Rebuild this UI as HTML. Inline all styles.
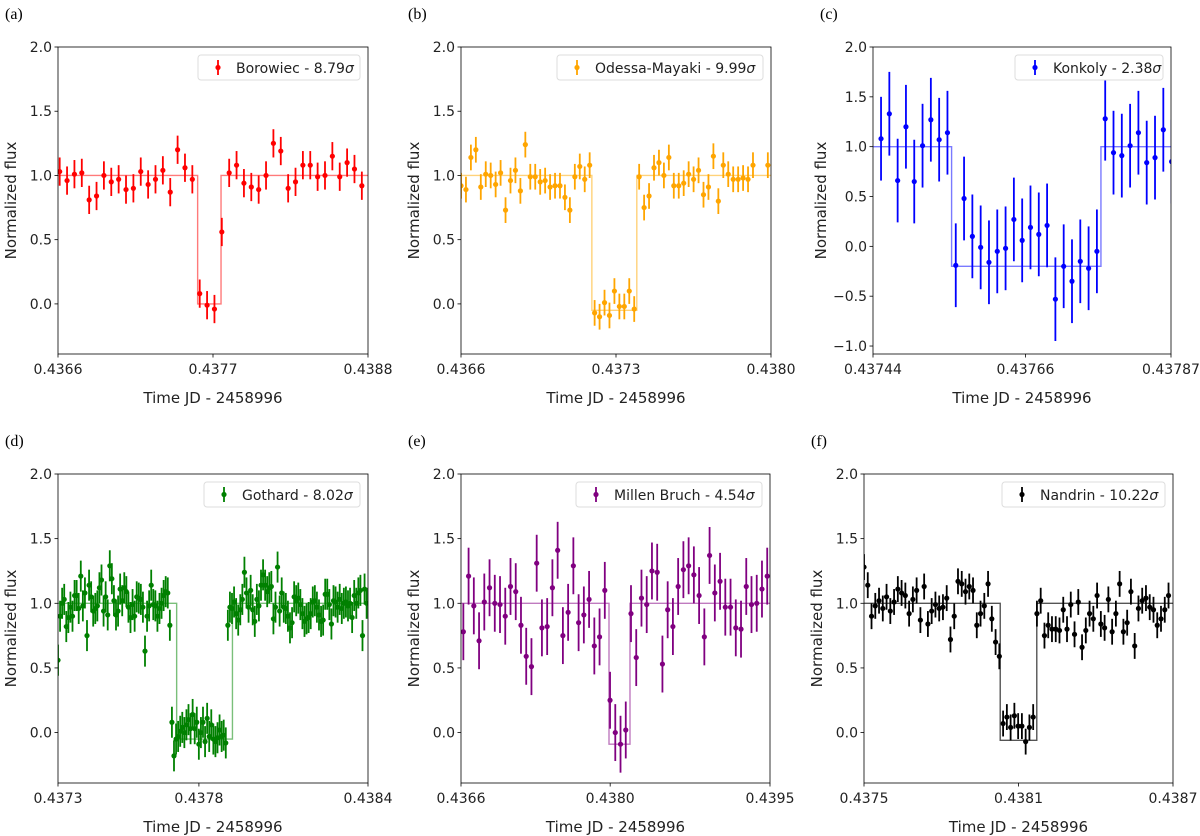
<!DOCTYPE html>
<html><head><meta charset="utf-8">
<style>
html,body{margin:0;padding:0;background:#fff;}
svg{display:block;font-family:"DejaVu Sans","Liberation Sans",sans-serif;}
</style></head>
<body>
<svg id="fig" width="1200" height="836" viewBox="0 0 1200 836" xmlns="http://www.w3.org/2000/svg"></svg>
<script>
// ---- data (regular cadence: start time, cadence, flux per exposure) ----
const aStart = 0.436612, aCadence = 5.23e-5;
const aFlux = [1.03,0.96,1.01,1.02,0.81,0.84,1.00,0.95,0.97,0.89,0.90,1.03,0.93,0.97,1.04,0.87,1.20,1.06,0.97,0.08,-0.01,-0.04,0.56,1.02,1.08,0.94,0.91,0.89,1.00,1.25,1.19,0.90,0.95,1.08,1.08,0.99,1.00,1.15,0.99,1.10,1.05,0.92];
const aErr = 0.11;
const aModelT = [0.4366,0.437591,0.437591,0.437757,0.437757,0.4388];
const aModelF = [1,1,0,0,1,1];

const bStart = 0.436600, bCadence = 2.235e-5;
const bFlux = [0.92,0.89,1.14,1.20,0.91,1.01,1.00,0.93,1.02,0.73,0.96,1.04,0.88,1.24,0.99,0.99,0.95,0.96,0.91,0.92,0.92,0.83,0.73,0.99,1.07,0.97,1.08,-0.07,-0.10,0.01,-0.09,0.10,-0.02,-0.02,0.10,-0.04,0.99,0.75,0.84,1.06,1.10,1.00,1.14,0.92,0.92,0.94,1.01,0.97,1.04,0.85,0.91,1.15,0.80,1.08,1.01,0.97,0.97,0.98,0.97,1.08,null,null,1.08];
const bErr = 0.1;
const bModelT = [0.4366,0.437191,0.437191,0.437394,0.437394,0.4380];
const bModelF = [1,1,-0.05,-0.05,1,1];

const cStart = 0.4374516, cCadence = 1.198e-5;
const cFlux = [1.08,1.33,0.66,1.20,0.65,1.01,1.27,1.07,1.14,-0.19,0.48,0.10,-0.01,-0.16,-0.05,-0.02,0.27,0.06,0.19,0.12,0.21,-0.53,-0.20,-0.35,-0.15,-0.22,-0.05,1.28,0.94,0.91,1.01,1.14,0.84,0.89,1.17,0.85];
const cErr = 0.42;
const cModelT = [0.43744,0.4375534,0.4375534,0.4377689,0.4377689,0.43787];
const cModelF = [1,1,-0.2,-0.2,1,1];

const dStart = 0.4373, dCadence = 7.35e-6;
const dFlux = [0.56,0.90,1.00,1.03,0.82,0.89,0.97,0.90,1.06,1.06,0.96,1.21,0.98,1.08,0.75,1.14,1.05,0.94,0.96,0.98,1.12,1.18,0.94,1.05,0.91,1.29,1.19,1.02,0.91,0.94,1.11,1.02,1.12,1.09,0.97,0.89,0.99,0.90,1.05,1.04,1.03,0.97,0.63,0.90,0.98,1.14,0.99,0.98,0.90,0.96,1.00,1.06,1.09,1.08,0.83,
0.08,-0.18,-0.05,-0.03,0.01,0.04,0.00,0.06,0.10,0.03,0.14,0.03,0.08,-0.09,0.00,0.08,-0.07,0.11,-0.03,0.06,-0.05,-0.07,-0.04,0.02,-0.03,-0.02,-0.08,
0.83,0.97,0.96,1.01,0.92,0.87,0.95,1.03,1.24,1.08,0.97,1.10,0.95,0.86,1.03,0.98,1.14,1.22,1.14,1.09,1.12,1.13,0.88,0.97,1.28,0.94,1.08,0.97,0.96,0.90,0.81,0.85,1.05,1.02,1.04,0.99,0.92,0.86,0.88,0.89,0.92,1.01,1.02,0.97,0.91,0.86,0.87,1.07,1.07,0.99,0.84,1.02,1.01,0.97,1.03,0.96,1.00,1.01,0.98,1.00,0.89,1.06,1.00,1.08,1.10,0.75,1.11,1.00];
const dErr = 0.12;
const dModelT = [0.4373,0.437721,0.437721,0.437919,0.437919,0.4384];
const dModelF = [1,1,-0.05,-0.05,1,1];

const eStart = 0.436622, eCadence = 4.917e-5;
const eFlux = [0.78,1.21,0.98,0.71,1.01,1.12,1.00,0.99,0.90,1.13,1.09,0.83,0.59,0.51,1.31,0.81,0.82,1.12,1.41,0.75,0.93,1.29,0.85,0.91,1.03,0.67,0.74,1.10,0.25,0.00,-0.09,0.02,0.92,0.58,1.04,0.99,1.25,1.24,0.53,0.95,0.82,1.13,1.26,1.29,1.22,1.06,0.74,1.37,1.08,1.17,0.97,0.97,0.81,0.80,1.13,0.99,1.00,1.11,1.21];
const eErr = 0.22;
const eModelT = [0.4366,0.437989,0.437989,0.438186,0.438186,0.4395];
const eModelF = [1,1,-0.09,-0.09,1,1];

const fStart = 0.4375, fCadence = 1.460e-5;
const fFlux = [1.28,1.14,0.90,0.98,1.02,0.96,1.05,0.94,1.01,1.11,1.08,1.06,0.92,1.03,1.10,0.87,1.13,0.84,0.94,0.99,0.96,0.97,1.04,0.72,0.90,1.17,1.15,1.09,1.13,1.10,0.83,0.92,0.98,1.15,0.88,0.70,0.59,0.07,0.12,0.04,0.13,0.05,0.05,-0.07,0.04,0.12,0.92,1.02,0.75,0.83,0.80,0.80,0.79,0.95,0.80,0.99,0.76,1.01,0.66,0.79,0.92,0.88,1.06,0.84,0.81,1.03,0.78,0.92,1.15,0.78,0.85,1.09,0.67,0.96,1.02,1.04,0.97,0.95,0.83,0.88,0.95,1.06];
const fErr = 0.1;
const fModelT = [0.4375,0.438029,0.438029,0.438171,0.438171,0.4387];
const fModelF = [1,1,-0.06,-0.06,1,1];

const panels = [
 {id:'a', label:'(a)', name:'Borowiec - 8.79', color:'#ff0000', model:'#ff7a7a', L:58,R:368,T:47,B:354, x0:0.4366,x1:0.4388, xt:['0.4366','0.4377','0.4388'], y0:-0.39,y1:2.0, yt:[0,0.5,1.0,1.5,2.0], start:aStart,cad:aCadence,flux:aFlux,err:aErr,mt:aModelT,mf:aModelF, legW:162},
 {id:'b', label:'(b)', name:'Odessa-Mayaki - 9.99', color:'#ffa500', model:'#ffd27a', L:461,R:771,T:47,B:354, x0:0.4366,x1:0.4380, xt:['0.4366','0.4373','0.4380'], y0:-0.39,y1:2.0, yt:[0,0.5,1.0,1.5,2.0], start:bStart,cad:bCadence,flux:bFlux,err:bErr,mt:bModelT,mf:bModelF, legW:206},
 {id:'c', label:'(c)', name:'Konkoly - 2.38', color:'#0000ff', model:'#7a7aff', L:873,R:1171,T:47,B:354, x0:0.43744,x1:0.43787, xt:['0.43744','0.43766','0.43787'], y0:-1.08,y1:2.0, yt:[-1.0,-0.5,0,0.5,1.0,1.5,2.0], start:cStart,cad:cCadence,flux:cFlux,err:cErr,mt:cModelT,mf:cModelF, legW:148},
 {id:'d', label:'(d)', name:'Gothard - 8.02', color:'#008000', model:'#7abf7a', L:58,R:368,T:474,B:783, x0:0.4373,x1:0.4384, xt:['0.4373','0.4378','0.4384'], y0:-0.39,y1:2.0, yt:[0,0.5,1.0,1.5,2.0], start:dStart,cad:dCadence,flux:dFlux,err:dErr,mt:dModelT,mf:dModelF, legW:156},
 {id:'e', label:'(e)', name:'Millen Bruch - 4.54', color:'#800080', model:'#bf7abf', L:461,R:770,T:474,B:783, x0:0.4366,x1:0.4395, xt:['0.4366','0.4380','0.4395'], y0:-0.39,y1:2.0, yt:[0,0.5,1.0,1.5,2.0], start:eStart,cad:eCadence,flux:eFlux,err:eErr,mt:eModelT,mf:eModelF, legW:186},
 {id:'f', label:'(f)', name:'Nandrin - 10.22', color:'#000000', model:'#555555', L:864,R:1173,T:474,B:783, x0:0.4375,x1:0.4387, xt:['0.4375','0.4381','0.4387'], y0:-0.39,y1:2.0, yt:[0,0.5,1.0,1.5,2.0], start:fStart,cad:fCadence,flux:fFlux,err:fErr,mt:fModelT,mf:fModelF, legW:163}
];

const NS='http://www.w3.org/2000/svg';
const svg=document.getElementById('fig');
function mk(tag, attrs, parent){
  const e=document.createElementNS(NS,tag);
  for(const k in attrs) e.setAttribute(k,attrs[k]);
  (parent||svg).appendChild(e);
  return e;
}
function fmtY(v){ return (v<0?'\u2212':'')+Math.abs(v).toFixed(1); }

panels.forEach(p=>{
  const g=mk('g',{});
  
  
  const xs=v=>p.L+(v-p.x0)/(p.x1-p.x0)*(p.R-p.L);
  const ys=v=>p.B-(v-p.y0)/(p.y1-p.y0)*(p.B-p.T);
  const clipId='clip-'+p.id;
  const cp=mk('clipPath',{id:clipId},g);
  mk('rect',{x:p.L,y:p.T,width:p.R-p.L,height:p.B-p.T},cp);

  const pl=mk('text',{x:p.L-53,y:p.T-28,'font-family':'"Liberation Serif",serif','font-size':16,fill:'#000'},g);
  pl.textContent=p.label;
  
  

  const plot=mk('g',{'clip-path':'url(#'+clipId+')'},g);
  
  

  let d='';
  p.mt.forEach((t,i)=>{ d+=(i?'L':'M')+xs(t).toFixed(2)+' '+ys(p.mf[i]).toFixed(2); });
  const ml=mk('path',{d:d,fill:'none',stroke:p.model,'stroke-width':1.4},plot);
  
  

  p.flux.forEach((f,i)=>{
    if(f===null) return;
    const t=p.start+i*p.cad;
    const x=xs(t);
    const pg=mk('g',{},plot);
    
    
    mk('line',{x1:x,x2:x,y1:ys(f-p.err),y2:ys(f+p.err),stroke:p.color,'stroke-width':1.8},pg);
    mk('circle',{cx:x,cy:ys(f),r:2.6,fill:p.color},pg);
  });

  const fr=mk('rect',{x:p.L,y:p.T,width:p.R-p.L,height:p.B-p.T,fill:'none',stroke:'#000','stroke-width':0.8},g);
  
  

  p.yt.forEach(v=>{
    const y=ys(v);
    mk('line',{x1:p.L-3.5,x2:p.L,y1:y,y2:y,stroke:'#000','stroke-width':0.8},g);
    const tl=mk('text',{x:p.L-6,y:y+5,'text-anchor':'end','font-size':14,fill:'#222'},g);
    tl.textContent=fmtY(v);
    
    
  });
  p.xt.forEach(s=>{
    const x=xs(parseFloat(s));
    mk('line',{x1:x,x2:x,y1:p.B,y2:p.B+3.5,stroke:'#000','stroke-width':0.8},g);
    const tl=mk('text',{x:x,y:p.B+20,'text-anchor':'middle','font-size':14,fill:'#222'},g);
    tl.textContent=s;
    
    
  });
  const xtitle=mk('text',{x:(p.L+p.R)/2,y:p.B+49,'text-anchor':'middle','font-size':15,fill:'#222'},g);
  xtitle.textContent='Time JD - 2458996';
  
  
  const ycx=p.L-(p.id==='c'?47:42), ycy=(p.T+p.B)/2;
  const ytitle=mk('text',{x:ycx,y:ycy,'text-anchor':'middle','font-size':15,fill:'#222',transform:'rotate(-90 '+ycx+' '+ycy+')'},g);
  ytitle.textContent='Normalized flux';
  
  

  const lg=mk('g',{},g);
  
  
  const lx=p.R-8-p.legW, ly=p.T+8;
  mk('rect',{x:lx,y:ly,width:p.legW,height:25,rx:3,fill:'#fff',stroke:'#ddd','stroke-width':1},lg);
  mk('line',{x1:lx+20,x2:lx+20,y1:ly+5,y2:ly+20,stroke:p.color,'stroke-width':1.8},lg);
  mk('circle',{cx:lx+20,cy:ly+12.5,r:2.6,fill:p.color},lg);
  const lt=mk('text',{x:lx+38,y:ly+18,'font-size':14,fill:'#222'},lg);
  lt.textContent=p.name;
  const sig=mk('tspan',{'font-style':'italic'},lt);
  sig.textContent='\u03c3';
});
</script>
</body></html>
